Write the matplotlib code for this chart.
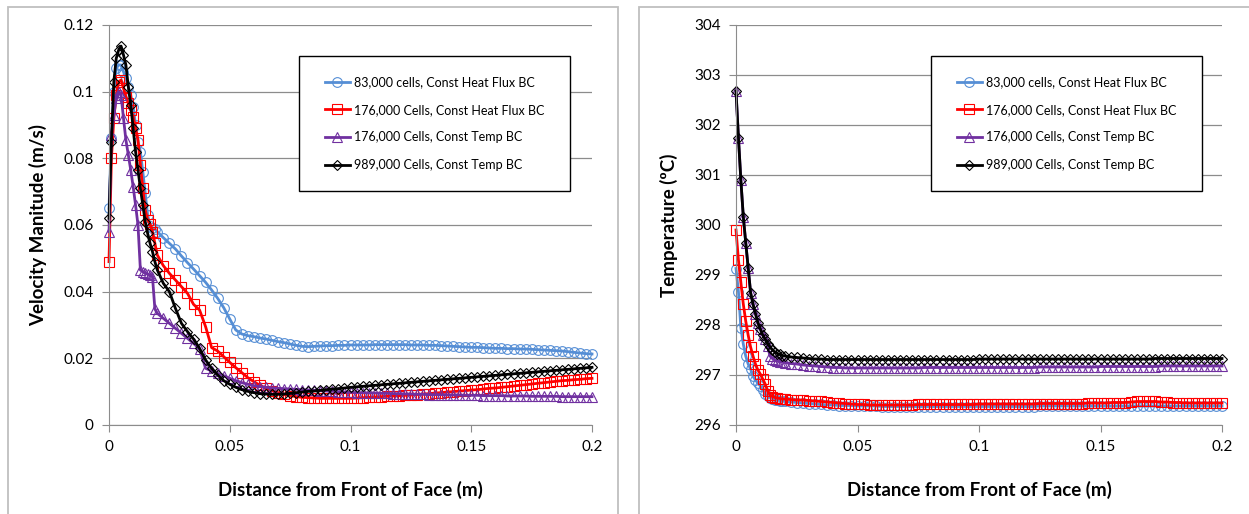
import matplotlib.pyplot as plt
from matplotlib.patches import Rectangle
from matplotlib.ticker import FuncFormatter
import numpy as np

plt.rcParams['font.family'] = ['Lato', 'DejaVu Sans']

# distance from the front of the face, in mm (shared by every series)
dist_mm = [0, 1, 2, 3, 4, 5, 6, 7, 8, 9, 10, 11, 12, 13, 14, 15, 16, 17, 18, 19, 20,
           22.5, 25, 27.5, 30, 32.5, 35, 37.5, 40, 42.5, 45, 47.5, 50, 52.5, 55, 57.5,
           60, 62.5, 65, 67.5, 70, 72.5, 75, 77.5, 80, 82.5, 85, 87.5, 90, 92.5, 95, 97.5,
           100, 102.5, 105, 107.5, 110, 112.5, 115, 117.5, 120, 122.5, 125, 127.5, 130,
           132.5, 135, 137.5, 140, 142.5, 145, 147.5, 150, 152.5, 155, 157.5, 160, 162.5,
           165, 167.5, 170, 172.5, 175, 177.5, 180, 182.5, 185, 187.5, 190, 192.5, 195,
           197.5, 200]

labels = ["83,000 cells, Const Heat Flux BC", "176,000 Cells, Const Heat Flux BC",
          "176,000 Cells, Const Temp BC", "989,000 Cells, Const Temp BC"]

# velocity magnitude (m/s)
vel_83k_hf = [0.065, 0.086, 0.100, 0.107, 0.108, 0.108, 0.106, 0.104, 0.1015, 0.099, 0.0955,
              0.090, 0.085, 0.082, 0.076, 0.0695, 0.063, 0.0598, 0.0592, 0.0587, 0.058,
              0.0562, 0.0545, 0.0528, 0.0507, 0.0487, 0.0468,
              0.0448, 0.0428, 0.0405, 0.038, 0.0352, 0.0318, 0.0285, 0.0273, 0.0268, 0.0265,
              0.0261, 0.0258, 0.0254, 0.025, 0.0247, 0.0243, 0.0239, 0.0236, 0.0235,
              0.0236, 0.0237, 0.0238, 0.0238, 0.0239, 0.0239, 0.024, 0.024, 0.024, 0.024,
              0.0241, 0.0241, 0.0241, 0.0241, 0.0241, 0.0241, 0.024, 0.024, 0.024, 0.0239,
              0.0239, 0.0238, 0.0237, 0.0236, 0.0235, 0.0234, 0.0233, 0.0233, 0.0232, 0.0231,
              0.023, 0.023, 0.0229, 0.0229, 0.0228, 0.0228, 0.0227, 0.0226, 0.0225, 0.0224,
              0.0223, 0.0222, 0.022, 0.0218, 0.0216, 0.0214, 0.0213]
vel_176k_hf = [0.049, 0.080, 0.092, 0.099, 0.103, 0.1035, 0.101, 0.0985, 0.0965, 0.0945, 0.0925,
               0.089, 0.0855, 0.078, 0.071, 0.0645, 0.0615, 0.0603, 0.058, 0.0545, 0.051,
               0.0478, 0.0455, 0.0435, 0.0415, 0.0395, 0.0362,
               0.0345, 0.0295, 0.0232, 0.0222, 0.0205, 0.0188, 0.0172,
               0.0157, 0.0142, 0.013, 0.0119, 0.011, 0.0103, 0.0097, 0.0092, 0.0088, 0.0085,
               0.0083, 0.0082, 0.0081, 0.008, 0.008, 0.008, 0.008, 0.008, 0.008,
               0.0081, 0.0082, 0.0083, 0.0084, 0.0085, 0.0086, 0.0087, 0.0088, 0.0089, 0.009,
               0.0091, 0.0093, 0.0094, 0.0096, 0.0097, 0.0099, 0.01, 0.0102, 0.0103, 0.0105,
               0.0106, 0.0108, 0.011, 0.0111, 0.0113, 0.0115, 0.0117, 0.0119, 0.0121, 0.0123,
               0.0125, 0.0127, 0.0129, 0.0131, 0.0133, 0.0134, 0.0136, 0.0137, 0.0139, 0.014]
vel_176k_ct = [0.058, 0.087, 0.093, 0.098, 0.100, 0.099, 0.092, 0.0855, 0.081, 0.0765, 0.0715,
               0.066, 0.060, 0.0465, 0.046, 0.0455, 0.0453, 0.045, 0.0445, 0.0348, 0.0335,
               0.032, 0.0305, 0.029, 0.0275, 0.026, 0.0245, 0.0228, 0.017, 0.0162, 0.0155,
               0.0148, 0.014, 0.0133, 0.0127, 0.0122, 0.0118, 0.0115, 0.0113, 0.0111, 0.011,
               0.0109, 0.0108, 0.0107, 0.0106, 0.0105, 0.0104, 0.0103, 0.0102, 0.0101, 0.01,
               0.0099, 0.0098,
               0.0097, 0.0097, 0.0096, 0.0096, 0.0095, 0.0095, 0.0094, 0.0094, 0.0093, 0.0093,
               0.0092, 0.0092, 0.0091, 0.0091, 0.0091, 0.009, 0.009, 0.009, 0.0089, 0.0089,
               0.0089, 0.0088, 0.0088, 0.0088, 0.0088, 0.0087, 0.0087, 0.0087, 0.0087, 0.0086,
               0.0086, 0.0086, 0.0086, 0.0086, 0.0085, 0.0085, 0.0085, 0.0085, 0.0085, 0.0085]
vel_989k_ct = [0.062, 0.085, 0.103, 0.110, 0.1125, 0.1137, 0.111, 0.108, 0.1015, 0.096, 0.089,
               0.082, 0.0765, 0.071, 0.066, 0.061, 0.0575, 0.0545, 0.052, 0.049, 0.0465,
               0.0425, 0.040, 0.035, 0.0305, 0.028, 0.0258, 0.023, 0.0195, 0.017, 0.015,
               0.0133, 0.0122, 0.0113, 0.0106, 0.0101, 0.0097, 0.0094, 0.0093, 0.0092,
               0.0092, 0.0093, 0.0095, 0.0097, 0.0099, 0.0101, 0.0102, 0.0104, 0.0106, 0.0108,
               0.0109, 0.0111, 0.0113,
               0.01145, 0.0116, 0.01175, 0.0119, 0.01205, 0.0122, 0.01235, 0.0125, 0.01265,
               0.0128, 0.01295, 0.0131, 0.01325, 0.0134, 0.01355, 0.0137, 0.01385, 0.014,
               0.01415, 0.0143, 0.01445, 0.0146, 0.01475, 0.0149, 0.01505, 0.0152, 0.01535,
               0.0155, 0.01565, 0.0158, 0.01595, 0.0161, 0.01625, 0.0164, 0.01655, 0.0167,
               0.01685, 0.017, 0.01715, 0.0173]

# temperature (deg C)
temp_83k_hf = [299.13, 298.67, 297.95, 297.62, 297.38, 297.22, 297.12, 296.97, 296.9, 296.84,
               296.78, 296.7, 296.62, 296.58, 296.55, 296.53, 296.51, 296.5, 296.49, 296.48,
               296.47, 296.46, 296.45, 296.44, 296.43, 296.42, 296.41,
               296.4, 296.4, 296.39, 296.39, 296.39, 296.38, 296.38, 296.38, 296.38, 296.37,
               296.37, 296.37, 296.37, 296.37, 296.37, 296.37, 296.37, 296.37, 296.37, 296.37,
               296.37, 296.37, 296.37, 296.37, 296.37, 296.37, 296.37, 296.37, 296.37, 296.37,
               296.37, 296.37, 296.37, 296.37, 296.37, 296.38, 296.38, 296.38, 296.38, 296.38,
               296.38, 296.38, 296.38, 296.38, 296.38, 296.38, 296.38, 296.38, 296.38, 296.38,
               296.38, 296.38, 296.38, 296.38, 296.38, 296.38, 296.38, 296.38, 296.38, 296.38,
               296.38, 296.38, 296.38, 296.38, 296.38, 296.38]
temp_176k_hf = [299.9, 299.3, 298.85, 298.42, 298.08, 297.8, 297.56, 297.38, 297.22, 297.1,
                297.02, 296.92, 296.82, 296.68, 296.6, 296.57, 296.55, 296.54, 296.53, 296.52,
                296.52, 296.51, 296.5, 296.5, 296.49, 296.48, 296.47,
                296.46, 296.45, 296.44, 296.43, 296.42, 296.41, 296.41, 296.4, 296.4, 296.4,
                296.4, 296.4, 296.4, 296.4, 296.4, 296.41, 296.41, 296.41, 296.41, 296.41,
                296.41, 296.41, 296.41, 296.41, 296.41, 296.42, 296.42, 296.42, 296.42, 296.42,
                296.42, 296.42, 296.42, 296.42, 296.42, 296.43, 296.43, 296.43, 296.43, 296.43,
                296.43, 296.43, 296.43, 296.44, 296.44, 296.44, 296.44, 296.45, 296.45, 296.45,
                296.46, 296.47, 296.47, 296.47, 296.47, 296.46, 296.46, 296.45, 296.45, 296.44,
                296.44, 296.44, 296.44, 296.44, 296.44, 296.44]
temp_176k_ct = [302.68, 301.75, 300.9, 300.17, 299.65, 299.15, 298.65, 298.42, 298.23, 298.05,
                297.92, 297.8, 297.72, 297.58, 297.38, 297.33, 297.3, 297.28, 297.27, 297.26,
                297.25, 297.23, 297.22, 297.2, 297.19, 297.18, 297.17,
                297.16, 297.15, 297.15, 297.14, 297.14, 297.14, 297.14, 297.14, 297.14, 297.14,
                297.14, 297.14, 297.14, 297.14, 297.14, 297.14, 297.15, 297.15, 297.15, 297.15,
                297.15, 297.15, 297.15, 297.15, 297.15, 297.15, 297.15, 297.15, 297.15, 297.15,
                297.15, 297.15, 297.15, 297.15, 297.15, 297.16, 297.16, 297.16, 297.16, 297.16,
                297.16, 297.16, 297.16, 297.16, 297.16, 297.17, 297.17, 297.17, 297.17, 297.17,
                297.17, 297.17, 297.17, 297.17, 297.17, 297.18, 297.18, 297.18, 297.18, 297.18,
                297.18, 297.18, 297.18, 297.18, 297.18, 297.18]
temp_989k_ct = [302.68, 301.75, 300.9, 300.17, 299.65, 299.15, 298.65, 298.42, 298.23, 298.05,
                297.92, 297.8, 297.72, 297.63, 297.56, 297.5, 297.46, 297.43, 297.41, 297.39,
                297.38, 297.36, 297.35, 297.34, 297.33, 297.32, 297.32,
                297.31, 297.31, 297.31, 297.31, 297.31, 297.31, 297.31, 297.31, 297.31, 297.31,
                297.31, 297.31, 297.31, 297.31, 297.31, 297.31, 297.31, 297.31, 297.31, 297.31,
                297.31, 297.31, 297.31, 297.31, 297.31, 297.32, 297.32, 297.32, 297.32, 297.32,
                297.32, 297.32, 297.32, 297.32, 297.32, 297.32, 297.32, 297.32, 297.32, 297.32,
                297.32, 297.32, 297.32, 297.32, 297.32, 297.32, 297.32, 297.32, 297.32, 297.32,
                297.32, 297.32, 297.32, 297.32, 297.33, 297.33, 297.33, 297.33, 297.33, 297.33,
                297.33, 297.33, 297.33, 297.33, 297.33, 297.33]

x = np.array(dist_mm) / 1000.0

W, H = 1249, 514
fig = plt.figure(figsize=(W / 100, H / 100), dpi=100, facecolor="white")


def px_box(x0, y0, x1, y1):
    # pixel box (top-left origin) -> figure fraction [left, bottom, width, height]
    return [x0 / W, 1 - y1 / H, (x1 - x0) / W, (y1 - y0) / H]


# chart area borders (Excel style)
for x0, x1 in [(8, 618), (639, 1262)]:
    l, b, w, h = px_box(x0, 7, x1, 540)
    fig.patches.append(Rectangle((l, b), w, h, transform=fig.transFigure, fill=False,
                                 edgecolor="#bfbfbf", lw=1.3))

styles = [("o", "#558ed5", 7), ("s", "#ff0000", 7), ("^", "#7030a0", 7), ("D", "#000000", 5.5)]
fmt = FuncFormatter(lambda v, p: f"{v:g}")
grey = "#8c8c8c"


def draw(ax, series, ylim, yticks, ylabel, ylab_x, legend_box):
    for y, (m, c, ms), lab in zip(series, styles, labels):
        ax.plot(x, y, color=c, lw=2.0, marker=m, ms=ms, mfc="none", mec=c, mew=0.8,
                label=lab, clip_on=False)
    ax.set_xlim(0, 0.2)
    ax.set_ylim(*ylim)
    ax.set_xticks([0, 0.05, 0.1, 0.15, 0.2])
    ax.set_yticks(yticks)
    ax.xaxis.set_major_formatter(fmt)
    ax.yaxis.set_major_formatter(fmt)
    for s in ("top", "right"):
        ax.spines[s].set_visible(False)
    for s in ("left", "bottom"):
        ax.spines[s].set_color(grey)
    ax.grid(axis="y", color=grey, lw=0.9)
    ax.set_axisbelow(True)
    ax.tick_params(direction="out", length=5, color=grey, labelsize=11, pad=6)
    ax.set_xlabel("Distance from Front of Face (m)", fontweight="bold", fontsize=13.5)
    ax.xaxis.set_label_coords(0.5, -0.14)
    ax.set_ylabel(ylabel, fontweight="bold", fontsize=13.5)
    ax.yaxis.set_label_coords(ylab_x, 0.5)

    l, b, w, h = px_box(*legend_box)
    ax.add_patch(Rectangle((l, b), w, h, transform=fig.transFigure, facecolor="white",
                           edgecolor="black", lw=1.0, clip_on=False, zorder=4))
    ax.legend(loc="center", bbox_to_anchor=(l + w / 2, b + h / 2),
              bbox_transform=fig.transFigure, frameon=False, fontsize=9,
              handlelength=2.0, handletextpad=0.3, labelspacing=1.25)


ax1 = fig.add_axes(px_box(109, 25, 592, 425))
draw(ax1, [vel_83k_hf, vel_176k_hf, vel_176k_ct, vel_989k_ct], (0, 0.12),
     [0, 0.02, 0.04, 0.06, 0.08, 0.1, 0.12], "Velocity Manitude (m/s)", -0.128,
     (299, 56, 570, 191))

ax2 = fig.add_axes(px_box(736, 25, 1222, 425))
draw(ax2, [temp_83k_hf, temp_176k_hf, temp_176k_ct, temp_989k_ct], (296, 304),
     list(range(296, 305)), "Temperature (ºC)", -0.12, (931, 56, 1202, 191))

fig.savefig("out.png", dpi=100, facecolor="white")
